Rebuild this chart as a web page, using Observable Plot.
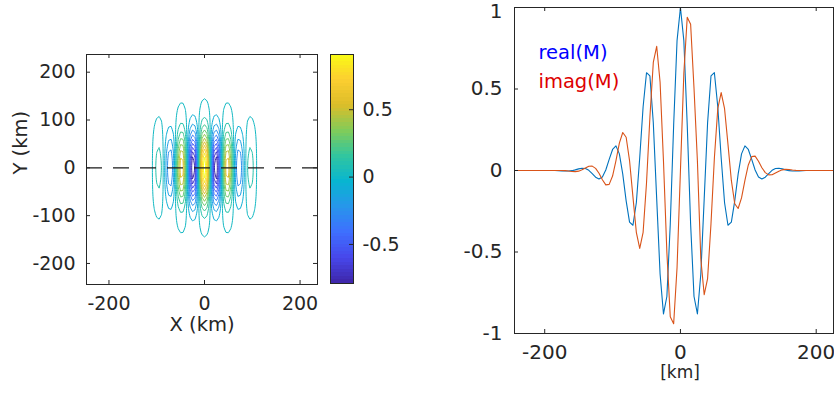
<!DOCTYPE html>
<html><head><meta charset="utf-8">
<script src="https://cdn.jsdelivr.net/npm/d3@7"></script>
<script src="https://cdn.jsdelivr.net/npm/@observablehq/plot@0.6"></script>
<style>
body{margin:0;background:#fff;}
#wrap{position:relative;width:834px;height:394px;overflow:hidden;font-family:"DejaVu Sans";background:#fff;}
#wrap svg{position:absolute;top:0;}
</style></head><body><div id="wrap"></div>
<script>
// Sample positions along the transect (km)
const xs = [-245,-240,-235,-230,-225,-220,-215,-210,-205,-200,-195,-190,-185,-180,-175,-170,-165,-160,-155,-150,-145,-140,-135,-130,-125,-120,-115,-110,-105,-100,-95,-90,-85,-80,-75,-70,-65,-60,-55,-50,-45,-40,-35,-30,-25,-20,-15,-10,-5,0,5,10,15,20,25,30,35,40,45,50,55,60,65,70,75,80,85,90,95,100,105,110,115,120,125,130,135,140,145,150,155,160,165,170,175,180,185,190,195,200,205,210,215,220,225,230,235];
// real(M) along y = 0
const realM = [0,0,0,0,0,0,0,0,0,0,0,0,0,
 -0.001,-0.002,-0.003,-0.003,-0.001,0.004,0.010,0.014,0.012,0.001,
 -0.019,-0.041,-0.052,-0.040,0.003,0.068,0.129,0.151,0.102,-0.022,
 -0.186,-0.317,-0.336,-0.198,0.078,0.391,0.600,0.580,0.293,-0.174,
 -0.635,-0.880,-0.773,-0.330,0.279,0.797,
 1,
 0.797,0.279,-0.330,-0.773,-0.880,-0.635,
 -0.174,0.293,0.580,0.600,0.391,0.078,-0.198,-0.336,-0.317,-0.186,
 -0.022,0.102,0.151,0.129,0.068,0.003,-0.040,-0.052,-0.041,-0.019,
 0.001,0.012,0.014,0.010,0.004,-0.001,-0.003,-0.003,-0.002,-0.001,
 0,0,0,0,0,0,0,0,0,0,0];
// imag(M) along y = 0
const imagM = [0,0,0,0,0,0,0,0,0,0,0,0,0,
 0,0,-0.001,-0.003,-0.006,-0.007,-0.004,0.004,0.015,0.026,
 0.027,0.013,-0.017,-0.057,-0.088,-0.085,-0.034,0.061,0.168,0.233,
 0.204,0.061,-0.162,-0.379,-0.478,-0.379,-0.077,0.327,0.663,0.762,
 0.541,0.057,-0.503,-0.897,-0.940,-0.595,
 0,
 0.595,0.940,0.897,0.503,0.057,-0.541,
 -0.762,-0.663,-0.327,0.077,0.379,0.478,0.379,0.162,-0.061,-0.204,
 -0.233,-0.168,-0.061,0.034,0.085,0.088,0.057,0.017,-0.013,-0.027,
 -0.026,-0.015,-0.004,0.004,0.007,0.006,0.003,0.001,0,0,
 0,0,0,0,0,0,0,0,0,0,0];
// Cross-transect profile (y >= 0, km) of the field amplitude
const yHalf = [0,5,10,15,20,25,30,35,40,45,50,55,60,65,70,75,80,85,90,95,100,105,110,115,120,125,130,135,140,145,150,155,160,165,170,175,180,185,190,195,200,205,210,215,220,225,230,235,240,245,250,255];
const gyHalf = [1,0.995,0.980,0.956,0.923,0.882,0.834,0.782,0.725,0.665,0.605,0.544,0.485,0.427,0.373,0.323,0.276,0.234,0.196,0.163,0.134,0.109,0.088,0.070,0.055,0.043,0.033,0.026,0.019,0.0145,0.0108,0.0080,0.0058,0.0042,0.0030,0.0021,0.0015,0.0010,0.0007,0.0005,0.0003,0,0,0,0,0,0,0,0,0,0,0];
// Contour levels
const levels = [-0.790,-0.701,-0.611,-0.522,-0.432,-0.343,-0.253,-0.164,-0.074,0.015,0.105,0.194,0.284,0.373,0.463,0.552,0.642,0.731,0.821,0.910];
// Tick values
const xTicksLeft = [-200,0,200];
const yTicksLeft = [-200,-100,0,100,200];
const cbTicks = [-0.5,0,0.5];
const xTicksRight = [-200,0,200];
const yTicksRight = [-1,-0.5,0,0.5,1];
const legendLabels = ["real(M)","imag(M)"];
const axisTitles = ["X (km)","Y (km)","[km]"];
// parula colormap stops
const parula = ["#3e26a8","#4747eb","#3e6fff","#2796eb","#08b5d0","#31c69f","#81cc59","#dcbd29","#fccf30","#f9fb15"];

if (realM.length !== xs.length || imagM.length !== xs.length || gyHalf.length !== yHalf.length) throw new Error("length mismatch " + realM.length + " " + imagM.length + " " + xs.length + " " + gyHalf.length);

const ink = "#262626";
const fmt = d => (d < 0 ? "-" : "") + Math.abs(d);
const cLo = levels[0], cHi = levels[levels.length - 1];
const colorScale = {type: "linear", domain: [cLo, cHi], interpolate: d3.piecewise(d3.interpolateRgb, parula)};
const baseStyle = {fontFamily: "DejaVu Sans", fontSize: "18px", color: ink, background: "transparent"};

// grid for the contour plot (row-major, rows along y), padded with zero columns
const step = xs[1] - xs[0];
const pad = 4;
const gridRe = [...Array(pad).fill(0), ...realM, ...Array(pad).fill(0)];
const gx0 = xs[0] - pad * step, gx1 = xs[xs.length - 1] + pad * step;
const ys = [...yHalf.slice(1).reverse().map(v => -v), ...yHalf];
const gy = [...gyHalf.slice(1).reverse(), ...gyHalf];
const grid = [];
for (let j = 0; j < ys.length; j++) for (let i = 0; i < gridRe.length; i++) grid.push(gridRe[i] * gy[j]);

const wrap = document.getElementById("wrap");

// ---------- left panel ----------
const LW = 330, LML = 86, LMR = 13, LMT = 54, LMB = 110;
const lpw = LW - LML - LMR, lph = 394 - LMT - LMB;
const left = Plot.plot({
  width: LW, height: 394, marginLeft: LML, marginRight: LMR, marginTop: LMT, marginBottom: LMB,
  x: {domain: [-247, 236.5]},
  y: {domain: [-244, 237]},
  color: colorScale,
  style: baseStyle,
  marks: [
    Plot.contour(grid, {width: gridRe.length, height: ys.length,
      x1: gx0 - step/2, x2: gx1 + step/2, y1: ys[0] - step/2, y2: ys[ys.length-1] + step/2,
      value: Plot.identity, thresholds: levels, stroke: "value", fill: "none", strokeWidth: 1, clip: true}),
    Plot.ruleY([0], {stroke: "#1a1a1a", strokeWidth: 1.3, strokeDasharray: "16,11"}),
    Plot.frame({stroke: ink}),
    Plot.tickY(yTicksLeft, {y: d => d, stroke: ink, insetRight: lpw - 4}),
    Plot.tickY(yTicksLeft, {y: d => d, stroke: ink, insetLeft: lpw - 4}),
    Plot.tickX(xTicksLeft, {x: d => d, stroke: ink, insetTop: lph - 4}),
    Plot.tickX(xTicksLeft, {x: d => d, stroke: ink, insetBottom: lph - 4}),
    Plot.axisX(xTicksLeft, {tickSize: 0, tickPadding: 12, tickFormat: fmt, label: null, fontSize: 19, fill: ink}),
    Plot.axisY(yTicksLeft, {tickSize: 0, tickPadding: 11, tickFormat: fmt, label: null, fontSize: 19, fill: ink}),
    Plot.text([axisTitles[0]], {text: d => d, frameAnchor: "bottom", dy: 46, fontSize: 19.5, fill: ink}),
    Plot.text([axisTitles[1]], {text: d => d, frameAnchor: "left", dx: -66, dy: 5, rotate: -90, fontSize: 19.5, fill: ink})
  ]
});
left.style.left = "0px";
wrap.appendChild(left);

// ---------- colorbar ----------
const CW = 110, CML = 10, CMR = 77, CMT = 54, CMB = 111;
const cpw = CW - CML - CMR;
const nb = 64;
const bands = d3.range(nb).map(i => ({y1: cLo + i*(cHi-cLo)/nb, y2: cLo + (i+1)*(cHi-cLo)/nb, v: cLo + (i+0.5)*(cHi-cLo)/nb}));
const cb = Plot.plot({
  width: CW, height: 394, marginLeft: CML, marginRight: CMR, marginTop: CMT, marginBottom: CMB,
  x: {domain: [0, 1], axis: null},
  y: {domain: [cLo, cHi]},
  color: colorScale,
  style: baseStyle,
  marks: [
    Plot.rect(bands, {x1: 0, x2: 1, y1: "y1", y2: "y2", fill: "v", shapeRendering: "crispEdges"}),
    Plot.frame({stroke: ink}),
    Plot.tickY(cbTicks, {y: d => d, stroke: ink, insetLeft: cpw - 4}),
    Plot.axisY(cbTicks, {anchor: "right", tickSize: 0, tickPadding: 9, tickFormat: fmt, label: null, fontSize: 19, fill: ink})
  ]
});
cb.style.left = "320px";
wrap.appendChild(cb);

// ---------- right panel ----------
const RW = 374, RML = 54, RMR = 1, RMT = 7, RMB = 61;
const rpw = RW - RML - RMR, rph = 394 - RMT - RMB;
const rows = xs.map((x, i) => ({x, re: realM[i], im: imagM[i]}));
const right = Plot.plot({
  width: RW, height: 394, marginLeft: RML, marginRight: RMR, marginTop: RMT, marginBottom: RMB,
  x: {domain: [-244.5, 225.5]},
  y: {domain: [-1, 1]},
  style: baseStyle,
  marks: [
    Plot.line(rows, {x: "x", y: "re", stroke: "#0072BD", strokeWidth: 1.1, clip: true}),
    Plot.line(rows, {x: "x", y: "im", stroke: "#D95319", strokeWidth: 1.1, clip: true}),
    Plot.frame({stroke: ink}),
    Plot.tickY(yTicksRight, {y: d => d, stroke: ink, insetRight: rpw - 4}),
    Plot.tickX(xTicksRight, {x: d => d, stroke: ink, insetTop: rph - 4}),
    Plot.tickX(xTicksRight, {x: d => d, stroke: ink, insetBottom: rph - 4}),
    Plot.axisX(xTicksRight, {tickSize: 0, tickPadding: 11, tickFormat: fmt, label: null, fontSize: 20, fill: ink}),
    Plot.axisY(yTicksRight.filter(d => d < 1), {tickSize: 0, tickPadding: 12, tickFormat: fmt, label: null, fontSize: 20, fill: ink}),
    Plot.axisY(yTicksRight.filter(d => d >= 1), {tickSize: 0, tickPadding: 12, tickFormat: fmt, label: null, fontSize: 20, fill: ink, dy: 4}),
    Plot.text([axisTitles[2]], {text: d => d, frameAnchor: "bottom", dx: 6, dy: 44, fontSize: 17, fill: ink}),
    Plot.text([legendLabels[0]], {text: d => d, frameAnchor: "top-left", dx: 24, dy: 38, textAnchor: "start", fontSize: 19.5, fill: "#0000ff"}),
    Plot.text([legendLabels[1]], {text: d => d, frameAnchor: "top-left", dx: 24, dy: 66.5, textAnchor: "start", fontSize: 19.5, fill: "#dd0000"})
  ]
});
right.style.left = "460px";
wrap.appendChild(right);
</script></body></html>
